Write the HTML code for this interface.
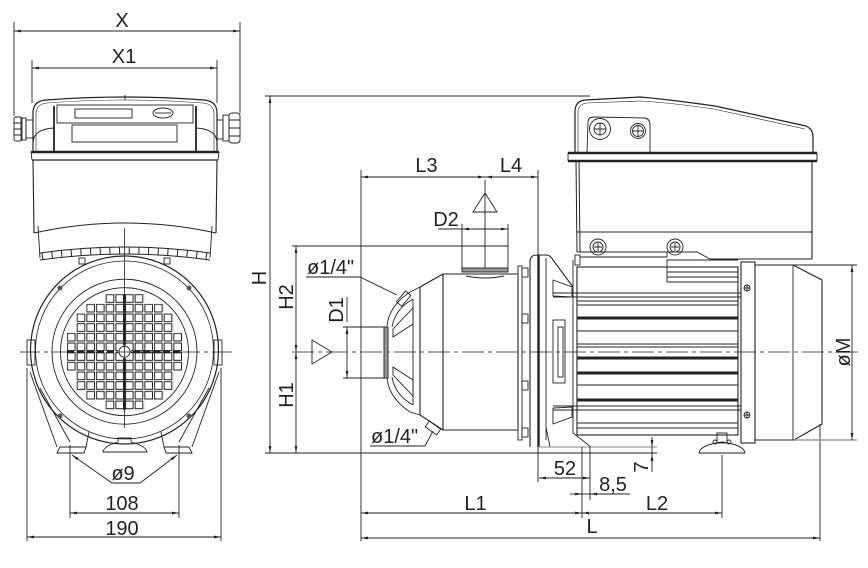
<!DOCTYPE html>
<html><head><meta charset="utf-8"><style>
html,body{margin:0;padding:0;background:#fff}
svg{display:block}
text{font-family:"Liberation Sans",sans-serif;font-size:20px;fill:#222}
</style></head><body>
<svg width="868" height="568" viewBox="0 0 868 568" xmlns="http://www.w3.org/2000/svg">
<defs>
<marker id="ar" viewBox="0 0 10 4" refX="10" refY="2" markerWidth="7" markerHeight="2.8" orient="auto-start-reverse" markerUnits="userSpaceOnUse"><path d="M0,0L10,2L0,4z" fill="#222"/></marker>
<pattern id="sq" patternUnits="userSpaceOnUse" x="66.9" y="294.1" width="9.67" height="9.67"><rect x="0.6" y="0.6" width="7.6" height="7.6" fill="none" stroke="#222" stroke-width="1"/></pattern>
</defs>
<rect width="868" height="568" fill="#fff"/>

<!-- ================= LEFT VIEW ================= -->
<g fill="none" stroke="#222" stroke-width="0.9">
 <line x1="14" y1="22" x2="14" y2="116"/>
 <line x1="240" y1="22" x2="240" y2="113"/>
 <line x1="14" y1="31" x2="240" y2="31" marker-start="url(#ar)" marker-end="url(#ar)"/>
 <line x1="32" y1="60" x2="32" y2="103"/>
 <line x1="217" y1="60" x2="217" y2="103"/>
 <line x1="32" y1="68" x2="217" y2="68" marker-start="url(#ar)" marker-end="url(#ar)"/>

 <path d="M33,152 L33,113 Q33,101 46,100 Q125,94 204,100 Q217,101 217,113 L217,152" stroke-width="1.2"/>
 <path d="M36,152 L36,114 Q36,104 47,103 Q125,97 203,103 Q214,104 214,114 L214,152" stroke-width="0.6"/>
 <path d="M33,142 Q34,129 54,128"/>
 <path d="M217,142 Q216,129 196,128"/>
 <line x1="54" y1="106" x2="54" y2="152" stroke-width="1.8"/>
 <line x1="196" y1="106" x2="196" y2="152" stroke-width="1.8"/>
 <rect x="57" y="105" width="136" height="18"/>
 <rect x="75" y="109" width="57" height="9"/>
 <rect x="72" y="125" width="105" height="17"/>
 <ellipse cx="163" cy="113" rx="10" ry="5"/>
 <line x1="155" y1="113" x2="171" y2="113"/>
 <line x1="125" y1="95" x2="125" y2="100"/>
 <line x1="31" y1="152" x2="219" y2="152" stroke-width="2.4"/>
 <line x1="32" y1="160" x2="218" y2="160" stroke-width="1.3"/>
 <line x1="31" y1="152" x2="32" y2="160"/>
 <line x1="219" y1="152" x2="218" y2="160"/>
 <path d="M33,160 L34,233 M217,160 L216,233" stroke-width="1.1"/>
 <path d="M34,233 Q125,213 216,233"/>
 <path d="M38,226 L40,258 M212,226 L210,258"/>
 <path d="M40,253 Q125,241 210,253"/>
 <path d="M40,260 Q125,248 210,260"/>
 <path d="M42,256.5 Q125,244.5 208,256.5" stroke-width="7" stroke-dasharray="1 8.67"/>
 <rect x="79" y="258" width="6" height="6"/>
 <rect x="164" y="258" width="6" height="6"/>

 <rect x="26" y="120" width="7" height="18"/>
 <rect x="21" y="118" width="5" height="22"/>
 <rect x="14" y="117" width="8" height="24" rx="2"/>
 <path d="M14,123 H22 M14,129 H22 M14,135 H22"/>
 <rect x="217" y="120" width="6" height="19"/>
 <rect x="223" y="115" width="6" height="26"/>
 <rect x="229" y="113" width="11" height="30" rx="3"/>
 <path d="M229,120 H240 M229,128 H240 M229,136 H240"/>

 <circle cx="124.5" cy="350" r="94" stroke-width="1.2"/>
 <circle cx="124.5" cy="350" r="89" stroke-width="0.8"/>
 <circle cx="124.5" cy="351.7" r="72.5"/>
 <circle cx="124.5" cy="351.7" r="64"/>
 <rect x="27" y="340" width="8" height="25"/>
 <rect x="214" y="340" width="8" height="25"/>

 <path d="M30,372 L57,447"/>
 <path d="M40,388 L70,442"/>
 <path d="M219,372 L192,447"/>
 <path d="M209,388 L179,442"/>
 <path d="M57,453 L84,453 L86,447 L60,447 Z"/>
 <path d="M86,447 L89,432"/>
 <path d="M166,453 L192,453 L189,447 L164,447 Z"/>
 <path d="M164,447 L161,432"/>
 <path d="M103,452 L147,452 Q146,446 131,442 L131,438 L118,438 L118,442 Q104,446 103,452 Z"/>
</g>
<g fill="#555">
 <circle cx="60" cy="288" r="2.5"/><circle cx="189" cy="288" r="2.5"/>
 <circle cx="60" cy="416" r="2.5"/><circle cx="189" cy="416" r="2.5"/>
</g>
<g fill="url(#sq)">
 <rect x="105.58" y="294.1" width="38.68" height="9.67"/>
 <rect x="86.24" y="303.77" width="77.36" height="9.67"/>
 <rect x="76.57" y="313.44" width="96.7" height="9.67"/>
 <rect x="76.57" y="323.11" width="96.7" height="9.67"/>
 <rect x="66.9" y="332.78" width="116.04" height="38.68"/>
 <rect x="76.57" y="371.46" width="96.7" height="19.34"/>
 <rect x="86.24" y="390.8" width="77.36" height="9.67"/>
 <rect x="105.58" y="400.47" width="38.68" height="9.67"/>
</g>
<g fill="none" stroke="#222">
 <line x1="67" y1="351.7" x2="116" y2="351.7" stroke-width="3" stroke-dasharray="7 3"/>
 <line x1="133" y1="351.7" x2="183" y2="351.7" stroke-width="3" stroke-dasharray="7 3"/>
 <line x1="124.5" y1="294" x2="124.5" y2="344" stroke-width="2.4"/>
 <line x1="124.5" y1="359" x2="124.5" y2="410" stroke-width="2.4"/>
 <circle cx="124.5" cy="351.7" r="6.5" fill="#fff" stroke="none"/>
 <circle cx="124.5" cy="351.7" r="5.5" stroke-width="0.9"/>
 <line x1="20" y1="352" x2="232" y2="352" stroke-width="0.8" stroke-dasharray="20 4 4 4"/>
 <line x1="124.5" y1="228" x2="124.5" y2="428" stroke-width="0.8"/>
</g>
<g fill="none" stroke="#222" stroke-width="0.9">
 <line x1="70" y1="445" x2="70" y2="518"/>
 <line x1="179" y1="445" x2="179" y2="518"/>
 <line x1="70" y1="513" x2="179" y2="513" marker-start="url(#ar)" marker-end="url(#ar)"/>
 <line x1="27" y1="368" x2="27" y2="541"/>
 <line x1="221" y1="368" x2="221" y2="541"/>
 <line x1="27" y1="537" x2="221" y2="537" marker-start="url(#ar)" marker-end="url(#ar)"/>
 <polyline points="72,455 112,483 140,483 177,455" marker-start="url(#ar)" marker-end="url(#ar)"/>
</g>
<text x="122" y="27" text-anchor="middle">X</text>
<text x="124" y="63" text-anchor="middle">X1</text>
<text x="123" y="480" text-anchor="middle">ø9</text>
<text x="122" y="510" text-anchor="middle">108</text>
<text x="122" y="535" text-anchor="middle">190</text>

<!-- ================= RIGHT VIEW ================= -->
<g fill="none" stroke="#222" stroke-width="0.9">
 <line x1="265" y1="96" x2="590" y2="96"/>
 <line x1="265" y1="453" x2="657" y2="453"/>
 <line x1="270" y1="96" x2="270" y2="453" marker-start="url(#ar)" marker-end="url(#ar)"/>
 <line x1="292" y1="246" x2="508" y2="246"/>
 <line x1="296" y1="246" x2="296" y2="352" marker-start="url(#ar)" marker-end="url(#ar)"/>
 <line x1="296" y1="352" x2="296" y2="453" marker-start="url(#ar)" marker-end="url(#ar)"/>
 <line x1="292" y1="352" x2="858" y2="352" stroke-width="0.8" stroke-dasharray="22 4 4 4"/>
 <line x1="343" y1="327" x2="388" y2="327"/>
 <line x1="343" y1="378" x2="388" y2="378"/>
 <line x1="347" y1="327" x2="347" y2="378" marker-start="url(#ar)" marker-end="url(#ar)"/>
 <line x1="347" y1="297" x2="347" y2="322"/>
 <polygon points="312,340 332,352 312,364"/>
 <line x1="361" y1="170" x2="361" y2="541"/>
 <line x1="538" y1="170" x2="538" y2="482"/>
 <line x1="361" y1="177" x2="485" y2="177" marker-start="url(#ar)" marker-end="url(#ar)"/>
 <line x1="485" y1="177" x2="538" y2="177" marker-start="url(#ar)" marker-end="url(#ar)"/>
 <line x1="485" y1="180" x2="485" y2="270"/>
 <polygon points="485,193 473,212 497,212"/>
 <line x1="438" y1="229" x2="462" y2="229"/>
 <line x1="462" y1="229" x2="508" y2="229" marker-start="url(#ar)" marker-end="url(#ar)"/>
 <line x1="462" y1="224" x2="462" y2="270"/>
 <line x1="508" y1="224" x2="508" y2="270"/>

 <rect x="462" y="268" width="46" height="4" fill="#999"/>
 <path d="M466,276 Q485,280 504,276"/>
 <path d="M443,274 L518,274 L518,430 L443,430 Z" stroke-width="1.1"/>
 <path d="M420,287 L443,274 M420,287 L420,415 L443,430" stroke-width="1.1"/>
 <rect x="518" y="266" width="4" height="174"/>
 <rect x="522" y="268" width="6" height="9"/>
 <rect x="522" y="314" width="6" height="9"/>
 <rect x="522" y="381" width="6" height="9"/>
 <rect x="522" y="428" width="6" height="9"/>
 <path d="M387,326 Q389,306 410,292 L420,287"/>
 <path d="M387,378 Q389,398 410,412 L420,415"/>
 <path d="M392,327 Q395,309 413,299"/>
 <path d="M392,377 Q395,395 413,405"/>
 <line x1="413" y1="299" x2="413" y2="405"/>
 <polygon points="393,329 413,308 413,324 393,337"/>
 <polygon points="393,375 413,396 413,380 393,367"/>
 <rect x="384" y="327" width="4" height="51" fill="#999"/>
 <rect x="400" y="292" width="7" height="14" transform="rotate(40 404 299)"/>
 <rect x="426" y="424.5" width="14" height="7" transform="rotate(35 433 428)"/>
 <polyline points="306,277 360,277 397,295"/>
 <polyline points="370,446 425,446 433,431"/>

 <path d="M530,447 L530,262 Q530,255 537,255 L547,255 Q551,256 553,260 L573,287" stroke-width="1.1"/>
 <line x1="546" y1="258" x2="546" y2="440"/>
 <path d="M546,427 L550,447 L591,447 L573,433 L573,260"/>
 <polygon points="553,280 572,287 572,297 553,296"/>
 <polygon points="553,424 572,417 572,407 553,408"/>
 <rect x="553" y="320" width="12" height="63"/>
 <rect x="558" y="327" width="5" height="50"/>
 <rect x="575" y="255" width="5" height="10"/>
</g>
<line x1="538.5" y1="255" x2="538.5" y2="447" stroke="#222" stroke-width="2.4"/>

<g fill="none" stroke="#222" stroke-width="0.9">
 <rect x="577" y="267" width="161" height="168" stroke-width="1.1"/>
 <path d="M553,293 H741 M553,297 H741 M553,406 H741 M553,410 H741"/>
 <path d="M577,301 H738 M577,305 H738 M577,331 H738 M577,344 H738 M577,347 H738 M577,385 H738 M577,423 H738 M577,428 H738"/>
 <path d="M667,267 L667,260 L738,260 M667,272 H738 M667,277 H738 M667,282 H738 M667,267 V282"/>
 <rect x="741" y="262" width="14" height="181" stroke-width="1.1"/>
 <circle cx="747" cy="288" r="3"/><path d="M744,288 H750 M747,285 V291"/>
 <circle cx="747" cy="415" r="3"/><path d="M744,415 H750 M747,412 V418"/>
 <path d="M755,265 L793,265 L822,280 L822,424 L794,440 L755,440" stroke-width="1.1"/>
 <line x1="793" y1="265" x2="793" y2="440"/>
 <line x1="820" y1="424" x2="820" y2="541"/>
 <line x1="793" y1="265" x2="857" y2="265"/>
 <line x1="794" y1="440" x2="857" y2="440" stroke="#999" stroke-width="1.4"/>
 <line x1="852" y1="265" x2="852" y2="440" marker-start="url(#ar)" marker-end="url(#ar)"/>
 <rect x="717" y="433" width="10" height="10"/>
 <path d="M699,453 L745,453 Q744,445 722,442 Q700,445 699,453 Z"/>
 <circle cx="715" cy="442" r="2"/><circle cx="729" cy="442" r="2"/>
</g>
<g stroke="#222" stroke-width="3">
 <path d="M577,318 H738 M577,358 H738 M577,373 H738 M577,400 H738"/>
</g>

<g fill="none" stroke="#222" stroke-width="0.9">
 <path d="M575,152 L575,110 Q576,101 585,100 L640,97 Q665,99 715,106 L806,126 Q813,129 813,137 L813,152" stroke-width="1.2"/>
 <path d="M578,152 L578,111 Q579,104 587,103 L640,101 Q664,102 714,109 L805,129" stroke-width="0.6"/>
 <path d="M587,152 L588,122 Q588,117 594,117 L645,118 Q650,119 650,125 L650,152"/>
 <circle cx="600" cy="129" r="10.5"/><circle cx="600" cy="129" r="6"/>
 <path d="M594,129 H606 M600,123 V135"/>
 <circle cx="638" cy="131" r="7.5"/><circle cx="638" cy="131" r="5.5"/>
 <path d="M633,131 H643 M638,126 V136"/>
 <line x1="568" y1="153" x2="817" y2="153" stroke-width="2.4"/>
 <line x1="568" y1="161" x2="817" y2="161" stroke-width="2.4"/>
 <line x1="568" y1="153" x2="568" y2="161"/>
 <line x1="817" y1="153" x2="817" y2="161"/>
 <path d="M576,161 L577,252 M579,161 L580,252" stroke-width="1"/>
 <line x1="812" y1="161" x2="812" y2="259" stroke-width="1.1"/>
 <line x1="577" y1="232" x2="812" y2="232" stroke-width="1.1"/>
 <path d="M577,252 L697,252 L710,259 L812,259"/>
 <path d="M580,257 L667,257 L667,252"/>
 <circle cx="598" cy="247" r="8"/><circle cx="598" cy="247" r="5"/>
 <path d="M594,247 H602 M598,243 V251"/>
 <circle cx="675" cy="247" r="8"/><circle cx="675" cy="247" r="5"/>
 <path d="M671,247 H679 M675,243 V251"/>
</g>

<g fill="none" stroke="#222" stroke-width="0.9">
 <line x1="537" y1="447" x2="657" y2="447" stroke="#888"/>
 <line x1="539" y1="478" x2="590" y2="478" marker-start="url(#ar)" marker-end="url(#ar)"/>
 <line x1="590" y1="447" x2="590" y2="500"/>
 <line x1="582" y1="447" x2="582" y2="518"/>
 <line x1="570" y1="494" x2="582" y2="494" marker-end="url(#ar)"/>
 <line x1="630" y1="494" x2="590" y2="494" marker-end="url(#ar)"/>
 <line x1="582" y1="494" x2="590" y2="494"/>
 <line x1="652" y1="437" x2="652" y2="447" marker-end="url(#ar)"/>
 <line x1="652" y1="472" x2="652" y2="454" marker-end="url(#ar)"/>
 <line x1="652" y1="447" x2="652" y2="454"/>
 <line x1="361" y1="513" x2="582" y2="513" marker-start="url(#ar)" marker-end="url(#ar)"/>
 <line x1="582" y1="513" x2="722" y2="513" marker-start="url(#ar)" marker-end="url(#ar)"/>
 <line x1="722" y1="455" x2="722" y2="518"/>
 <line x1="361" y1="538" x2="820" y2="538" marker-start="url(#ar)" marker-end="url(#ar)"/>
</g>

<text transform="translate(266,278) rotate(-90)" text-anchor="middle">H</text>
<text transform="translate(293,297) rotate(-90)" text-anchor="middle">H2</text>
<text transform="translate(293,395) rotate(-90)" text-anchor="middle">H1</text>
<text transform="translate(343,310) rotate(-90)" text-anchor="middle">D1</text>
<text transform="translate(850,352) rotate(-90)" text-anchor="middle">øM</text>
<text transform="translate(648,467) rotate(-90)" text-anchor="middle">7</text>
<text x="307" y="274">ø1/4"</text>
<text x="371" y="443">ø1/4"</text>
<text x="426.5" y="172" text-anchor="middle">L3</text>
<text x="511" y="172" text-anchor="middle">L4</text>
<text x="446" y="226" text-anchor="middle">D2</text>
<text x="565" y="475" text-anchor="middle">52</text>
<text x="613" y="491" text-anchor="middle">8,5</text>
<text x="475.5" y="510" text-anchor="middle">L1</text>
<text x="657" y="510" text-anchor="middle">L2</text>
<text x="592" y="533" text-anchor="middle">L</text>
</svg>
</body></html>
